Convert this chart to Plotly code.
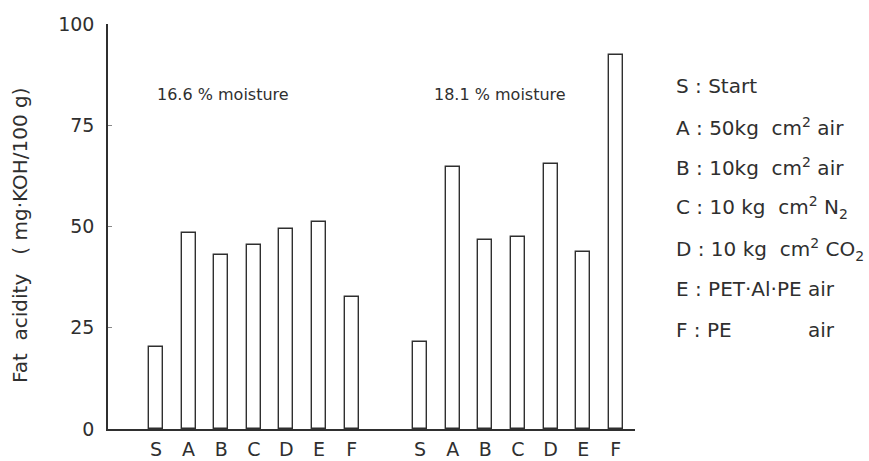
import plotly.graph_objects as go

# Fat acidity by storage condition, two moisture levels
categories = ["S", "A", "B", "C", "D", "E", "F"]
acidity_166 = [20.3, 48.5, 43.0, 45.4, 49.3, 51.0, 32.7]
acidity_181 = [21.5, 64.6, 46.6, 47.4, 65.5, 43.6, 92.3]
group_labels = ["16.6 % moisture", "18.1 % moisture"]
legend_lines = [
    "S : Start",
    "A : 50kg  cm<sup>2</sup> air",
    "B : 10kg  cm<sup>2</sup> air",
    "C : 10 kg  cm<sup>2</sup> N<sub>2</sub>",
    "D : 10 kg  cm<sup>2</sup> CO<sub>2</sub>",
    "E : PET·Al·PE air",
    "F : PE            air",
]
y_ticks = [0, 25, 50, 75, 100]

# layout geometry (pixels)
W, H = 869, 461
L, R, T, B = 108, 234, 24, 32
PW, PH = W - L - R, H - T - B
GROUP_OFFSET = 8.1
X_RANGE = [-1.47, 14.69]

def px_to_paper_x(px):
    return (px - L) / PW

def px_to_paper_y(py):
    return (H - B - py) / PH

x_left = list(range(len(categories)))
x_right = [GROUP_OFFSET + i for i in range(len(categories))]

ink = "#2f2f2f"
font = "DejaVu Sans"

bar_style = dict(
    marker=dict(color="white", line=dict(color=ink, width=1.4)),
    width=0.43,
    showlegend=False,
    hoverinfo="skip",
)

fig = go.Figure()
fig.add_trace(go.Bar(x=x_left, y=acidity_166, **bar_style))
fig.add_trace(go.Bar(x=x_right, y=acidity_181, **bar_style))

# moisture labels above each group
fig.add_annotation(x=2.07, y=82.7, text=group_labels[0], showarrow=False,
                   xanchor="center", yanchor="middle",
                   font=dict(family=font, size=16, color=ink))
fig.add_annotation(x=10.55, y=82.5, text=group_labels[1], showarrow=False,
                   xanchor="center", yanchor="middle",
                   font=dict(family=font, size=16, color=ink))

# key to treatment codes
key_y = [86, 127, 167, 208, 249, 289, 330]
for line, py in zip(legend_lines, key_y):
    fig.add_annotation(xref="paper", yref="paper", x=px_to_paper_x(674),
                       y=px_to_paper_y(py), xanchor="left", yanchor="middle",
                       text=line, showarrow=False, align="left",
                       font=dict(family=font, size=20, color=ink))

# y-axis title
fig.add_annotation(xref="paper", yref="paper", x=px_to_paper_x(20),
                   y=px_to_paper_y(235), text="Fat  acidity   ( mg·KOH/100 g)",
                   textangle=-90, showarrow=False,
                   xanchor="center", yanchor="middle",
                   font=dict(family=font, size=20, color=ink))

fig.update_layout(
    width=W, height=H,
    margin=dict(l=L, r=R, t=T, b=B, pad=0, autoexpand=False),
    paper_bgcolor="white", plot_bgcolor="white",
    bargap=0,
    xaxis=dict(
        range=X_RANGE, showgrid=False, zeroline=False, automargin=False,
        showline=True, linecolor=ink, linewidth=1.5,
        tickvals=x_left + x_right, ticktext=categories + categories,
        ticks="", tickfont=dict(family=font, size=19, color=ink),
        ticklabelstandoff=2,
    ),
    yaxis=dict(
        range=[0, 100], showgrid=False, zeroline=False, automargin=False,
        showline=True, linecolor=ink, linewidth=1.5,
        tickvals=y_ticks, ticks="inside", ticklen=4, tickcolor="#888",
        tickfont=dict(family=font, size=19, color=ink),
        ticklabelstandoff=8,
    ),
)

fig.write_html("out.html")
